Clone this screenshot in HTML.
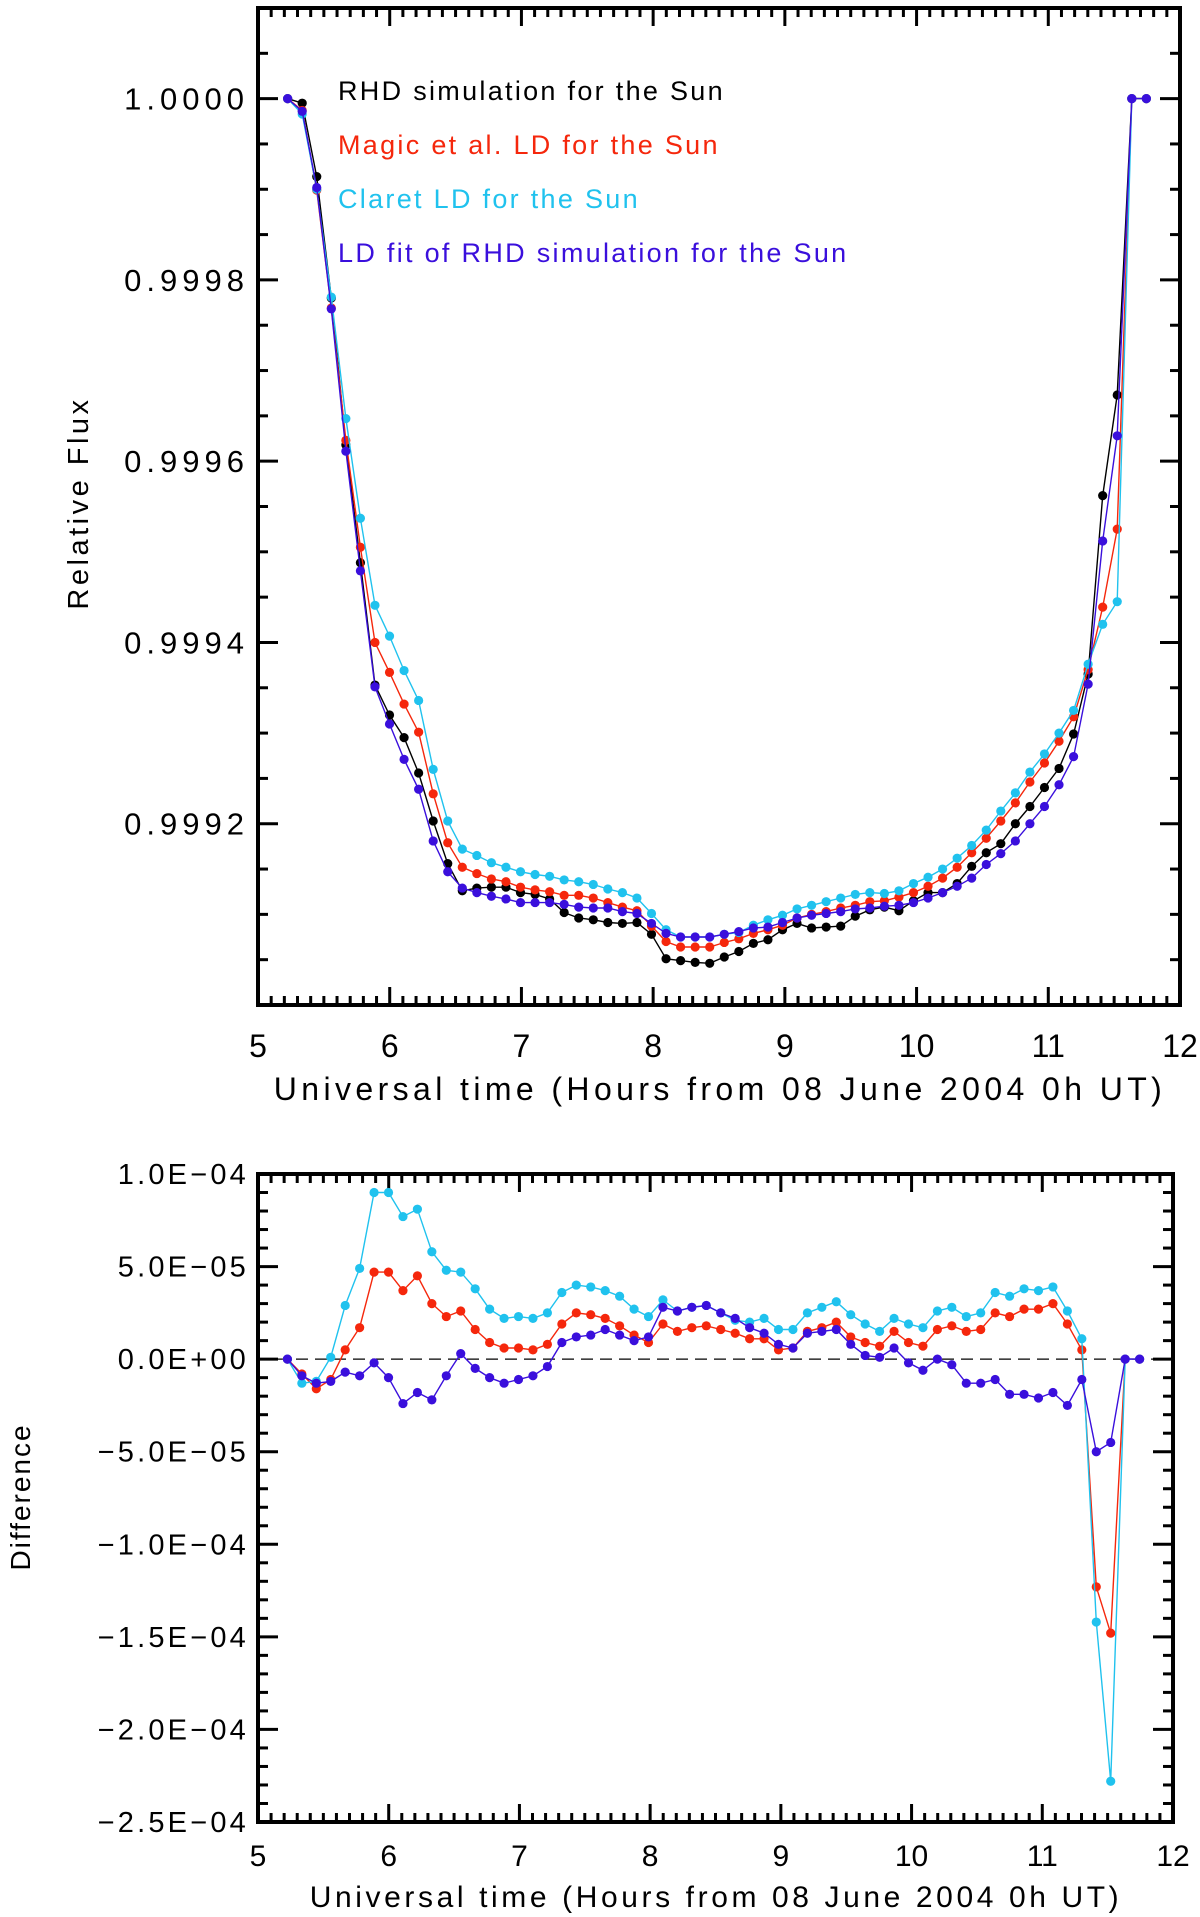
<!DOCTYPE html>
<html><head><meta charset="utf-8">
<style>
html,body{margin:0;padding:0;background:#fff;}
svg{display:block;font-family:"Liberation Sans","DejaVu Sans",sans-serif;}
</style></head>
<body>
<svg id="chart" width="1200" height="1917" viewBox="0 0 1200 1917" xmlns="http://www.w3.org/2000/svg">
<rect x="0" y="0" width="1200" height="1917" fill="#fff"/>
</svg>
<script>
// ---------- data ----------
const nPoints = 60;
const tStart = 5.225;
const tStep = 0.1105;
// flux deficit (1 - flux) in units of 1e-6
const rhdDeficit = [0,5,86,220,382,512,647,680,705,744,797,844,874,871,870,870,876,878,883,898,904,906,909,910,909,922,949,951,953,954,947,941,932,928,917,910,915,914,913,902,895,892,896,885,876,876,866,847,832,822,800,781,760,739,701,635,438,327,0,0];
const magicDeficit = [0,13,101,231,377,495,600,633,668,699,767,821,848,855,861,864,870,873,875,879,879,882,887,892,896,913,930,936,936,936,931,927,921,917,912,904,900,897,893,890,886,885,881,876,869,860,848,832,816,797,777,754,733,709,682,630,561,475,0,0];
const claretDeficit = [0,17,100,219,353,463,559,593,631,664,740,797,828,835,843,848,853,856,858,862,864,867,872,876,882,899,917,925,925,925,922,920,912,906,901,894,890,886,882,878,876,877,874,866,859,850,838,824,807,786,766,743,723,700,675,624,580,555,0,0];
const fitDeficit = [0,14,98,232,389,521,649,690,729,762,819,853,871,876,880,883,887,887,887,889,892,893,893,897,899,910,921,925,925,925,922,919,915,914,909,904,901,899,897,894,893,891,890,887,882,876,869,860,845,833,819,800,781,757,726,646,488,372,0,0];
// differences (model - RHD) in units of 1e-6
const magicDiff = [0,-8,-16,-11,5,17,47,47,37,45,30,23,26,16,9,6,6,5,8,19,25,24,22,18,13,9,19,15,17,18,16,14,11,11,5,6,15,17,20,12,9,7,15,9,7,16,18,15,16,25,23,27,27,30,19,5,-123,-148,0,0];
const claretDiff = [0,-13,-12,1,29,49,90,90,77,81,58,48,47,38,27,22,23,22,25,36,40,39,37,34,27,23,32,26,28,29,25,21,20,22,16,16,25,28,31,24,19,15,22,19,17,26,28,23,25,36,34,38,37,39,26,11,-142,-228,0,0];
const fitDiff = [0,-9,-13,-12,-7,-9,-2,-10,-24,-18,-22,-9,3,-5,-10,-13,-11,-9,-4,9,12,13,16,13,10,12,28,26,28,29,25,22,17,14,8,6,14,15,16,8,2,1,6,-2,-6,0,-3,-13,-13,-11,-19,-19,-21,-18,-25,-11,-50,-45,0,0];
const xTicks = ["5","6","7","8","9","10","11","12"];
const topYTicks = ["0.9992","0.9994","0.9996","0.9998","1.0000"];
const botYTicks = ["1.0E\u221204","5.0E\u221205","0.0E+00","\u22125.0E\u221205","\u22121.0E\u221204","\u22121.5E\u221204","\u22122.0E\u221204","\u22122.5E\u221204"];
const legendLabels = ["RHD simulation for the Sun","Magic et al. LD for the Sun","Claret LD for the Sun","LD fit of RHD simulation for the Sun"];

// ---------- helpers ----------
const NS = "http://www.w3.org/2000/svg";
const svg = document.getElementById('chart');
function mk(tag, attrs, parent){
  const e = document.createElementNS(NS, tag);
  for (const k in attrs) e.setAttribute(k, attrs[k]);
  (parent||svg).appendChild(e);
  return e;
}
const COL = {rhd:"#000000", magic:"#f5270c", claret:"#20c2ee", fit:"#3a0fdc"};

const T = {l:258, r:1180, t:8, b:1005, x0:5, x1:12, y0:0.9990, y1:1.0001};
const B = {l:258, r:1173, t:1174, b:1822, x0:5, x1:12, y0:-2.5e-4, y1:1.0e-4};
function sx(P, v){ return P.l + (v-P.x0)/(P.x1-P.x0)*(P.r-P.l); }
function sy(P, v){ return P.b - (v-P.y0)/(P.y1-P.y0)*(P.b-P.t); }
function tAt(i){ return tStart + i*tStep; }

function drawFrame(P, name, yMajorVals, yMinorStep){
  const g = mk('g', {});
  
  
  for (let k=0; k<=70; k++){
    const v = P.x0 + k*0.1;
    const x = sx(P, v);
    const major = (k%10===0);
    const len = major ? 18 : 9;
    mk('line', {x1:x, y1:P.b, x2:x, y2:P.b-len, stroke:'#000','stroke-width':3}, g);
    mk('line', {x1:x, y1:P.t, x2:x, y2:P.t+len, stroke:'#000','stroke-width':3}, g);
  }
  const nMinor = Math.round((P.y1-P.y0)/yMinorStep);
  for (let k=0; k<=nMinor; k++){
    const v = P.y0 + k*yMinorStep;
    const y = sy(P, v);
    let major = yMajorVals.some(m => Math.abs(m - v) < yMinorStep*0.01);
    const len = major ? 20 : 10;
    mk('line', {x1:P.l, y1:y, x2:P.l+len, y2:y, stroke:'#000','stroke-width':3}, g);
    mk('line', {x1:P.r, y1:y, x2:P.r-len, y2:y, stroke:'#000','stroke-width':3}, g);
  }
  mk('rect', {x:P.l, y:P.t, width:P.r-P.l, height:P.b-P.t, fill:'none', stroke:'#000','stroke-width':4}, g);
}

function drawXLabels(P, name, yPos, size){
  xTicks.forEach((lab, k) => {
    const t = mk('text', {x:sx(P, P.x0+k), y:yPos, 'font-size':size, 'text-anchor':'middle', fill:'#000'});
    
    
    t.textContent = lab;
  });
}

function drawSeries(P, name, ys, color, toVal){
  const g = mk('g', {});
  
  
  let pts = [];
  for (let i=0; i<ys.length; i++){
    pts.push(sx(P, tAt(i)).toFixed(1) + ',' + sy(P, toVal(ys[i])).toFixed(1));
  }
  mk('polyline', {points:pts.join(' '), fill:'none', stroke:color, 'stroke-width':1.4}, g);
  for (let i=0; i<ys.length; i++){
    const c = mk('circle', {cx:sx(P, tAt(i)), cy:sy(P, toVal(ys[i])), r:4.6, fill:color}, g);
    
    
  }
}

// ---------- top panel ----------
drawFrame(T, 'flux-panel', [0.9990,0.9992,0.9994,0.9996,0.9998,1.0000], 0.00005);
topYTicks.forEach((lab, k) => {
  const v = 0.9992 + k*0.0002;
  const t = mk('text', {x:249, y:sy(T, v)+11, 'font-size':31, 'text-anchor':'end', fill:'#000', 'letter-spacing':'5'});
  
  
  t.textContent = lab;
});
drawXLabels(T, 'flux', 1057, 32);
{
  const t = mk('text', {x:720, y:1100, 'font-size':32, 'text-anchor':'middle', fill:'#000', 'letter-spacing':'4.4'});
  
  
  t.textContent = 'Universal time (Hours from 08 June 2004 0h UT)';
  const y = mk('text', {x:0, y:0, 'font-size':29, 'text-anchor':'middle', fill:'#000', transform:'translate(88,503) rotate(-90)', 'letter-spacing':'3.5'});
  
  
  y.textContent = 'Relative Flux';
}
const defToFlux = d => 1 - d*1e-6;
drawSeries(T, 'rhd-series', rhdDeficit, COL.rhd, defToFlux);
drawSeries(T, 'magic-series', magicDeficit, COL.magic, defToFlux);
drawSeries(T, 'claret-series', claretDeficit, COL.claret, defToFlux);
drawSeries(T, 'fit-series', fitDeficit, COL.fit, defToFlux);

const legCols = [COL.rhd, COL.magic, COL.claret, COL.fit];
const legY = [100, 154, 208, 262];
legendLabels.forEach((lab, k) => {
  const t = mk('text', {x:338, y:legY[k], 'font-size':27, fill:legCols[k], 'letter-spacing':'2.3'});
  
  
  t.textContent = lab;
});

// ---------- bottom panel ----------
drawFrame(B, 'difference-panel', [-2.5e-4,-2.0e-4,-1.5e-4,-1.0e-4,-0.5e-4,0,0.5e-4,1.0e-4], 1e-5);
botYTicks.forEach((lab, k) => {
  const v = 1.0e-4 - k*0.5e-4;
  const t = mk('text', {x:249, y:sy(B, v)+10, 'font-size':29, 'text-anchor':'end', fill:'#000', 'letter-spacing':'3.2'});
  
  
  t.textContent = lab;
});
drawXLabels(B, 'difference', 1866, 30);
{
  const t = mk('text', {x:716, y:1907, 'font-size':30, 'text-anchor':'middle', fill:'#000', 'letter-spacing':'3.6'});
  
  
  t.textContent = 'Universal time (Hours from 08 June 2004 0h UT)';
  const y = mk('text', {x:0, y:0, 'font-size':28, 'text-anchor':'middle', fill:'#000', transform:'translate(30,1497) rotate(-90)', 'letter-spacing':'2'});
  
  
  y.textContent = 'Difference';
}
{
  const z = mk('line', {x1:B.l, y1:sy(B,0), x2:B.r, y2:sy(B,0), stroke:'#000', 'stroke-width':1.3, 'stroke-dasharray':'12,7'});
  
  
}
const diffToVal = d => d*1e-6;
drawSeries(B, 'magic-difference-series', magicDiff, COL.magic, diffToVal);
drawSeries(B, 'claret-difference-series', claretDiff, COL.claret, diffToVal);
drawSeries(B, 'fit-difference-series', fitDiff, COL.fit, diffToVal);
</script>
</body></html>
